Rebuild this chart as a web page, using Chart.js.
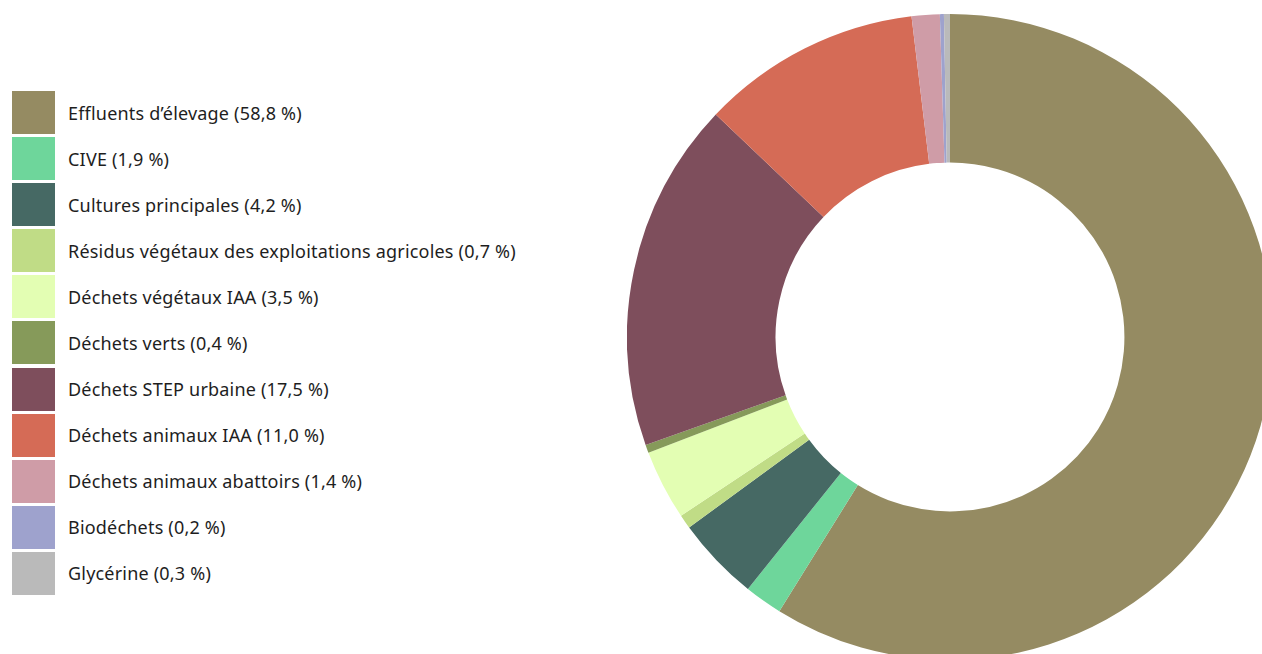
<!DOCTYPE html>
<html lang="fr">
<head>
<meta charset="utf-8">
<title>Gisements méthanisés</title>
<script src="https://cdn.jsdelivr.net/npm/chart.js@4/dist/chart.umd.min.js"></script>
<style>
    html, body { margin: 0; padding: 0; background: #fff; overflow: hidden; width: 1262px; height: 654px; }
    #legend { position: absolute; left: 12px; top: 91px; font-family: "Noto Sans", sans-serif; font-size: 18px; letter-spacing: 0.2px; color: #1e1e1e; }
    #legend .item { display: flex; align-items: center; height: 43px; margin-bottom: 3.1px; }
    #legend .box { width: 43px; height: 43px; margin-right: 13px; flex: none; }
    #wrap { position: absolute; left: 627px; top: 14px; width: 646px; height: 646px; }
</style>
</head>
<body>
<div id="legend"></div>
<div id="wrap"><canvas id="donut" width="646" height="646"></canvas></div>
<script>
const categories = [
    "Effluents d’élevage",
    "CIVE",
    "Cultures principales",
    "Résidus végétaux des exploitations agricoles",
    "Déchets végétaux IAA",
    "Déchets verts",
    "Déchets STEP urbaine",
    "Déchets animaux IAA",
    "Déchets animaux abattoirs",
    "Biodéchets",
    "Glycérine"
];
const shares = [58.8, 1.9, 4.2, 0.7, 3.5, 0.4, 17.5, 11.0, 1.4, 0.2, 0.3];
const colors = [
    "#958b62", "#6ed69b", "#466964", "#c0dc86", "#e3feb3", "#869a5a",
    "#7e4e5c", "#d56b56", "#cf9ca7", "#9ea2cd", "#bababa"
];

const fmt = (v) => v.toFixed(1).replace(".", ",") + "\u00a0%";

// legend on the left
const legend = document.getElementById("legend");
categories.forEach((name, i) => {
    const row = document.createElement("div");
    row.className = "item";
    row.innerHTML = `<span class="box" style="background:${colors[i]}"></span><span>${name} (${fmt(shares[i])})</span>`;
    legend.appendChild(row);
});

new Chart(document.getElementById("donut"), {
    type: "doughnut",
    data: {
        labels: categories,
        datasets: [{
            data: shares,
            backgroundColor: colors,
            borderWidth: 0
        }]
    },
    options: {
        responsive: false,
        animation: false,
        cutout: "54%",
        layout: { padding: 0 },
        plugins: {
            legend: { display: false },
            tooltip: {
                callbacks: {
                    label: (ctx) => `${ctx.label} : ${fmt(ctx.parsed)}`
                }
            }
        }
    }
});
</script>
</body>
</html>
